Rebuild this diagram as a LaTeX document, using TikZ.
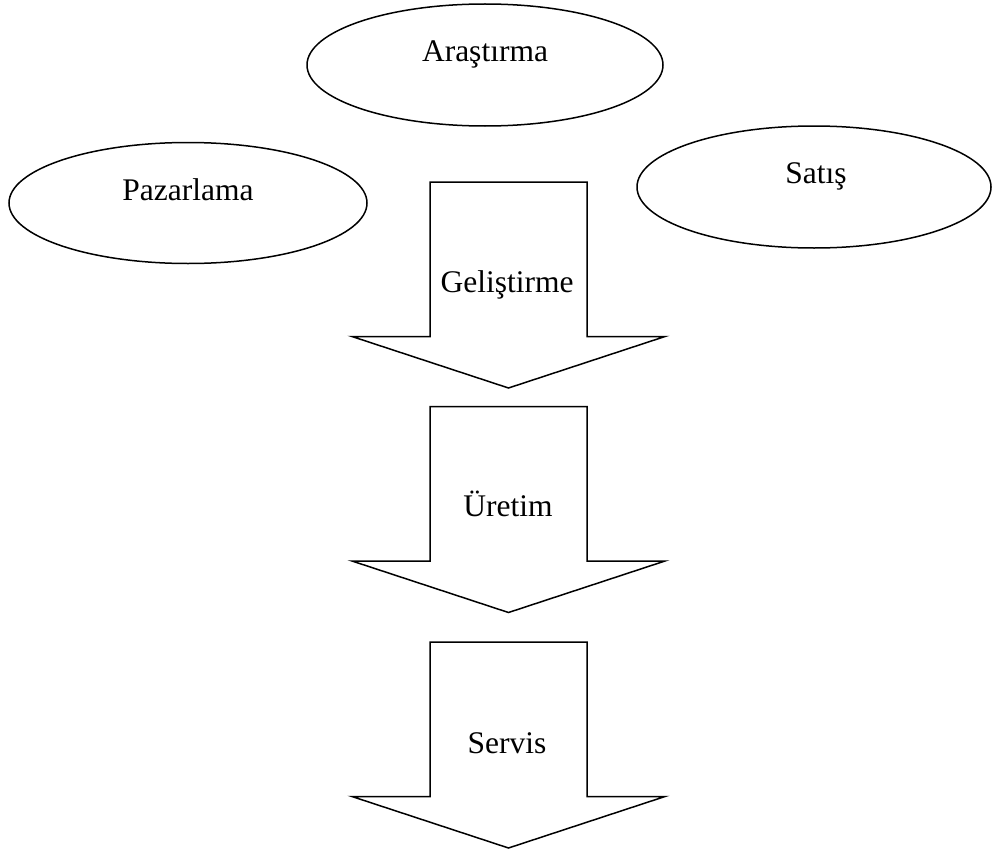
\documentclass[tikz,border=0pt]{standalone}
\usepackage{fontspec}
\setmainfont{Liberation Serif}
\usetikzlibrary{shapes.geometric}
\begin{document}
\begin{tikzpicture}[x=1pt,y=-1pt,
  oval/.style={ellipse,draw=black,line width=1.5pt,inner sep=0pt,minimum width=356pt,minimum height=122pt},
  lbl/.style={anchor=base,inner sep=0pt,font=\fontsize{31.5}{36}\selectfont},
  bigarrow/.style={draw=black,line width=1.5pt,line join=miter}]
\useasboundingbox (0,0) rectangle (992,856);
% ellipses
\node[oval] (ar) at (485,65) {};
\node[lbl] (arT) at (485,62) {Araştırma};
\node[oval,minimum width=358pt,minimum height=121pt] (pz) at (188,203) {};
\node[lbl] (pzT) at (188,200) {Pazarlama};
\node[oval,minimum width=354pt] (st) at (814,187) {};
\node[lbl] (stT) at (816,183) {Satış};
% block arrows
\foreach \t/\n in {182/a1,406.5/a2,642/a3}{
  \draw[bigarrow] (430,\t) -- (587,\t) -- (587,\t+154.5) -- (665,\t+154.5)
     -- (508.5,\t+206) -- (352,\t+154.5) -- (430,\t+154.5) -- cycle;
}
\node[lbl] (g) at (507,292) {Geliştirme};
\node[lbl] (u) at (508,516.5) {Üretim};
\node[lbl] (s) at (507,753) {Servis};
\end{tikzpicture}
\end{document}
